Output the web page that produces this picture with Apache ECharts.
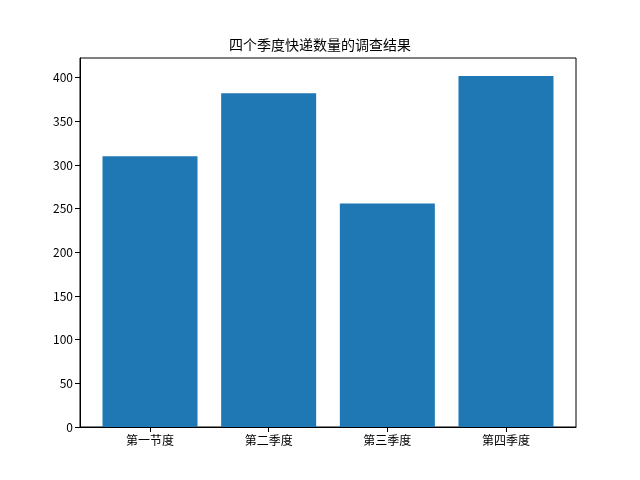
<!DOCTYPE html>
<html><head><meta charset="utf-8">
<script src="https://cdn.jsdelivr.net/npm/echarts@6/dist/echarts.min.js"></script>
<style>html,body{margin:0;padding:0;background:#fff}#c{width:640px;height:480px}</style>
</head><body><div id="c"></div>
<script>
const title = '四个季度快递数量的调查结果';
const categories = ['第一节度', '第二季度', '第三季度', '第四季度'];
const values = [310, 382, 256, 402];
const yTicks = [0, 50, 100, 150, 200, 250, 300, 350, 400];

const font = '"Noto Sans CJK SC", "DejaVu Sans", sans-serif';
const chart = echarts.init(document.getElementById('c'));
chart.setOption({
  animation: false,
  backgroundColor: '#fff',
  title: {
    text: title, left: 'center', top: 33,
    textStyle: {fontFamily: font, fontSize: 14, fontWeight: 'normal', color: '#000'}
  },
  grid: {left: 80, right: 64, top: 58, bottom: 53, show: true, borderColor: '#000', borderWidth: 1},
  xAxis: {
    type: 'value', min: -0.59, max: 3.59,
    splitLine: {show: false},
    axisLine: {show: true, onZero: false, lineStyle: {color: '#000'}},
    axisTick: {show: true, customValues: categories.map((c, i) => i), length: 5, inside: false, lineStyle: {color: '#000'}},
    axisLabel: {
      customValues: categories.map((c, i) => i),
      formatter: v => categories[Math.round(v)] || '',
      fontFamily: font, fontSize: 12, color: '#000', margin: 7
    }
  },
  yAxis: {
    type: 'value', min: 0, max: 422.5,
    splitLine: {show: false},
    axisLine: {show: true, onZero: false, lineStyle: {color: '#000'}},
    axisTick: {show: true, customValues: yTicks, length: 5, lineStyle: {color: '#000'}},
    axisLabel: {customValues: yTicks, fontFamily: font, fontSize: 12, color: '#000', margin: 7}
  },
  series: [{
    type: 'bar',
    data: categories.map((c, i) => [i, values[i]]),
    barWidth: 95,
    itemStyle: {color: '#1f77b4'}
  }]
});
</script></body></html>
